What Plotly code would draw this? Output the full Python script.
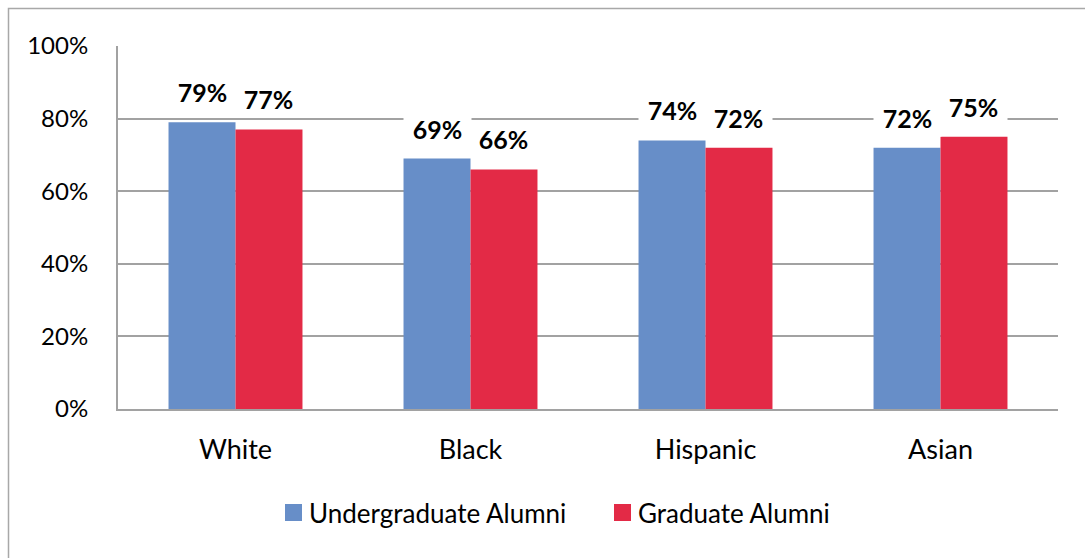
import plotly.graph_objects as go

categories = ["White", "Black", "Hispanic", "Asian"]
undergrad = [79, 69, 74, 72]
graduate = [77, 66, 72, 75]
series_names = ["Undergraduate Alumni", "Graduate Alumni"]
y_ticks = [0, 20, 40, 60, 80, 100]
y_tick_labels = ["0%", "20%", "40%", "60%", "80%", "100%"]

BLUE = "#678ec8"
RED = "#e32a46"
GRID = "#a2a2a2"
FONT = "Lato, 'Open Sans', sans-serif"
BARGAP = 0.43
bar_w = (1 - BARGAP) / 2

# plot-area geometry in pixels, used to place paper-anchored decorations
L, R, T, B = 118, 27, 46, 149
W, H = 1085, 558
PW, PH = W - L - R, H - T - B


def px_x(px):
    return (px - L) / PW


def px_y(py):
    return (H - B - py) / PH


fig = go.Figure()
fig.add_trace(go.Bar(x=categories, y=undergrad, name=series_names[0],
                     marker=dict(color=BLUE, line=dict(width=0))))
fig.add_trace(go.Bar(x=categories, y=graduate, name=series_names[1],
                     marker=dict(color=RED, line=dict(width=0))))

# value labels on white boxes above each bar
for i in range(len(categories)):
    for vals, off in ((undergrad, -bar_w / 2), (graduate, bar_w / 2)):
        fig.add_annotation(
            x=i + off, y=vals[i], xref="x", yref="y",
            text=f"<b>{vals[i]}%</b>", showarrow=False,
            yanchor="middle", yshift=30,
            font=dict(family=FONT, size=25, color="#000"),
            bgcolor="white", width=67, height=36, borderpad=0,
        )

# legend: square swatch followed by series name
legend_items = [(series_names[0], BLUE, 285), (series_names[1], RED, 614)]
for name, color, x0 in legend_items:
    fig.add_shape(type="rect", xref="paper", yref="paper",
                  x0=px_x(x0), x1=px_x(x0 + 17), y0=px_y(521), y1=px_y(504),
                  fillcolor=color, line=dict(width=0))
    fig.add_annotation(x=px_x(x0 + 22), y=px_y(512.5), xref="paper", yref="paper",
                       text=name, showarrow=False, xanchor="left", yanchor="middle",
                       font=dict(family=FONT, size=26, color="#000"))

# outer frame
fig.add_shape(type="rect", xref="paper", yref="paper",
              x0=px_x(8.5), x1=px_x(1100), y0=px_y(580), y1=px_y(8.5),
              line=dict(color="#a8a8a8", width=1.5), fillcolor="rgba(0,0,0,0)",
              layer="below")

fig.update_layout(
    width=W, height=H,
    margin=dict(l=L, r=R, t=T, b=B),
    paper_bgcolor="white", plot_bgcolor="white",
    barmode="group", bargap=BARGAP, bargroupgap=0,
    font=dict(family=FONT, size=24, color="#000"),
    showlegend=False,
    xaxis=dict(showgrid=False, showline=True, linecolor=GRID, linewidth=2,
               ticks="", ticklabelstandoff=16, tickfont=dict(size=27)),
    yaxis=dict(range=[0, 100], tickvals=y_ticks, ticktext=y_tick_labels,
               showgrid=True, gridcolor=GRID, gridwidth=2,
               showline=True, linecolor=GRID, linewidth=2, zeroline=False,
               ticks="", ticklabelstandoff=23, tickfont=dict(size=24)),
)

fig.write_html("out.html")
